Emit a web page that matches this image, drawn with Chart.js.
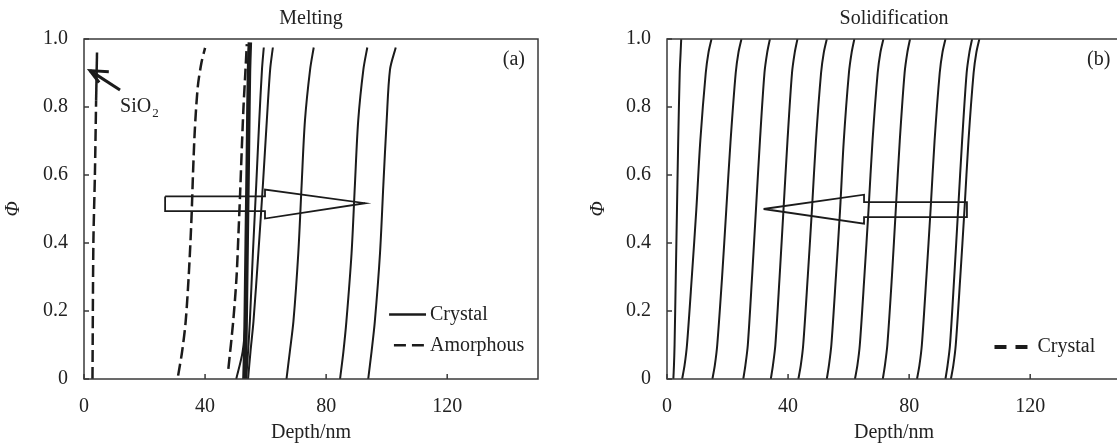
<!DOCTYPE html>
<html>
<head>
<meta charset="utf-8">
<script src="https://cdn.jsdelivr.net/npm/chart.js@4.4.0/dist/chart.umd.min.js"></script>
<style>
  html, body { margin: 0; padding: 0; background: #fff; overflow: hidden; }
  #wrap { position: relative; width: 1117px; height: 445px; overflow: hidden; }
  #melt { position: absolute; left: 0; top: 0; }
  #solid { position: absolute; left: 560px; top: 0; }
</style>
</head>
<body>
<div id="wrap">
  <canvas id="melt" width="560" height="445" style="width:560px;height:445px"></canvas>
  <canvas id="solid" width="580" height="445" style="width:580px;height:445px"></canvas>
</div>
<script>
// ---- (a) Melting : phase front depth (nm) at each Φ level ----
const meltPhi = [0, 0.08, 0.17, 0.37, 0.57, 0.76, 0.91, 0.975];
const meltCrystal = [
  [50.3, 52.4, 53.3, 53.6, 53.9, 54.1, 54.3, 54.5],
  [53.6, 54.2, 54.8, 55.8, 56.9, 57.9, 58.8, 59.4],
  [54.2, 55.0, 56.0, 57.6, 59.1, 60.4, 61.5, 62.4],
  [66.9, 68.0, 69.2, 70.8, 71.9, 73.0, 74.7, 75.9],
  [84.6, 85.7, 86.7, 88.4, 89.5, 90.6, 92.3, 93.6],
  [93.9, 95.0, 96.1, 97.8, 98.9, 100.0, 101.1, 103.0]
];
const meltThickPhi = [0, 0.1, 0.3, 0.5, 0.7, 0.9, 0.99];
const meltThick = [53.0, 53.3, 53.6, 53.9, 54.2, 54.5, 54.8];

const sio2Phi = [0, 0.4, 0.6, 0.82];
const sio2X = [2.8, 3.1, 3.6, 4.0];
const sio2TopPhi = [0.82, 0.96];
const sio2TopX = [4.0, 4.3];

const amorphPhiA = [0.01, 0.08, 0.17, 0.32, 0.47, 0.6, 0.73, 0.86, 0.93, 0.974];
const amorphA = [31.1, 32.4, 33.6, 34.7, 35.5, 36.0, 36.6, 37.6, 38.8, 40.0];
const amorphPhiB = [0.03, 0.17, 0.3, 0.42, 0.55, 0.67, 0.8, 0.9, 0.985];
const amorphB = [47.7, 49.3, 50.4, 51.0, 51.6, 52.1, 52.7, 53.3, 53.8];

const meltArrowX = [26.8, 59.8, 59.8, 92.9, 59.8, 59.8, 26.8, 26.8];
const meltArrowPhi = [0.537, 0.537, 0.557, 0.517, 0.472, 0.494, 0.494, 0.537];
const sio2ShaftX = [11.9, 2.0];
const sio2ShaftPhi = [0.85, 0.907];
const sio2HeadX = [8.2, 2.0, 5.0];
const sio2HeadPhi = [0.904, 0.907, 0.872];

// ---- (b) Solidification ----
const solidPhi = [0, 0.04, 0.1, 0.3, 0.5, 0.7, 0.9, 0.96, 1.0];
const solidCrystal = [
  [2.1, 2.3, 2.5, 2.9, 3.3, 3.7, 4.2, 4.5, 4.7],
  [5.0, 5.8, 6.6, 8.2, 9.7, 11.0, 12.8, 13.7, 14.7],
  [15.0, 15.8, 16.6, 18.2, 19.6, 21.0, 22.7, 23.6, 24.6],
  [25.2, 25.9, 26.7, 28.1, 29.4, 30.7, 32.2, 33.1, 34.0],
  [34.3, 35.0, 35.8, 37.2, 38.5, 39.8, 41.3, 42.2, 43.1],
  [43.4, 44.2, 45.0, 46.5, 47.9, 49.2, 50.9, 51.8, 52.8],
  [52.8, 53.5, 54.3, 55.8, 57.2, 58.4, 60.1, 61.0, 61.9],
  [62.1, 62.9, 63.7, 65.2, 66.6, 67.9, 69.6, 70.5, 71.5],
  [71.3, 72.0, 72.8, 74.3, 75.6, 76.9, 78.5, 79.4, 80.3],
  [82.6, 83.4, 84.2, 85.7, 87.1, 88.4, 90.1, 91.0, 92.0],
  [92.0, 92.7, 93.5, 94.9, 96.2, 97.5, 99.0, 99.9, 100.8],
  [93.8, 94.6, 95.4, 96.9, 98.3, 99.6, 101.3, 102.2, 103.2]
];
const solidArrowX = [31.9, 65.1, 65.1, 99.1, 99.1, 65.1, 65.1, 31.9];
const solidArrowPhi = [0.5, 0.542, 0.520, 0.520, 0.476, 0.476, 0.457, 0.5];

const xTicks = [0, 40, 80, 120];

const serif = "'Liberation Serif', 'Times New Roman', serif";
const ink = '#1b1b1b';
const textInk = '#222';

const pts = (xs, phi) => xs.map((v, i) => ({ x: v, y: phi[i] }));
const curve = (xs, phi, extra) => Object.assign({
  data: pts(xs, phi), showLine: true, pointRadius: 0, borderColor: ink,
  borderWidth: 2, tension: 0.3, fill: false
}, extra);

// frame, inward ticks, titles, legend and notes
const panelDecor = {
  id: 'panelDecor',
  afterDatasetsDraw(chart, args, o) {
    const { ctx, chartArea: a, scales: { x, y } } = chart;
    ctx.save();
    ctx.strokeStyle = '#3a3a3a';
    ctx.lineWidth = 1.5;
    ctx.strokeRect(a.left, a.top, a.right - a.left, a.bottom - a.top);
    ctx.beginPath();
    x.ticks.forEach(t => {
      const p = x.getPixelForValue(t.value);
      ctx.moveTo(p, a.bottom); ctx.lineTo(p, a.bottom - 5);
    });
    y.ticks.forEach(t => {
      const p = y.getPixelForValue(t.value);
      ctx.moveTo(a.left, p); ctx.lineTo(a.left + 5, p);
    });
    ctx.stroke();

    ctx.fillStyle = textInk;
    ctx.font = '20px ' + serif;
    ctx.textBaseline = 'middle';
    ctx.textAlign = 'center';
    ctx.fillText(o.title, (a.left + a.right) / 2, 19);

    ctx.textAlign = 'right';
    ctx.fillText(o.tag.text, x.getPixelForValue(o.tag.x), y.getPixelForValue(o.tag.y));

    ctx.textAlign = 'left';
    o.legend.forEach(l => {
      const py = y.getPixelForValue(l.y);
      ctx.beginPath();
      ctx.setLineDash(l.dash);
      ctx.lineWidth = l.width;
      ctx.strokeStyle = ink;
      ctx.moveTo(x.getPixelForValue(l.x0), py);
      ctx.lineTo(x.getPixelForValue(l.x1), py);
      ctx.stroke();
      ctx.setLineDash([]);
      ctx.fillText(l.label, x.getPixelForValue(l.tx), py);
    });

    (o.notes || []).forEach(n => {
      const px = x.getPixelForValue(n.x), py = y.getPixelForValue(n.y);
      ctx.font = '20px ' + serif;
      ctx.fillText(n.text, px, py);
      const w = ctx.measureText(n.text).width;
      ctx.font = '13px ' + serif;
      ctx.fillText(n.sub, px + w + 1, py + 7);
    });
    ctx.restore();
  }
};

function axes(yWidth, yTitlePad) {
  return {
    x: {
      type: 'linear', min: 0, max: 150,
      afterBuildTicks: s => { s.ticks = xTicks.map(v => ({ value: v })); },
      ticks: { padding: 16, color: textInk, font: { family: serif, size: 20 } },
      grid: { display: false, drawTicks: false },
      border: { display: false },
      title: { display: true, text: 'Depth/nm', color: textInk, font: { family: serif, size: 20 }, padding: { top: 0, bottom: 0 } },
      afterFit: s => { s.height = 66; }
    },
    y: {
      type: 'linear', min: 0, max: 1,
      ticks: {
        stepSize: 0.2, padding: 16, color: textInk, font: { family: serif, size: 20 },
        callback: v => (v === 0 ? '0' : v.toFixed(1))
      },
      grid: { display: false, drawTicks: false },
      border: { display: false },
      title: { display: true, text: 'Φ', color: textInk, font: { family: serif, size: 20, style: 'italic' }, padding: { top: yTitlePad, bottom: 0 } },
      afterFit: s => { s.width = yWidth; }
    }
  };
}

const common = {
  responsive: false,
  animation: false,
  devicePixelRatio: 1,
  events: [],
  plugins: { legend: { display: false }, tooltip: { enabled: false } }
};

// (a) Melting
const meltSets = [
  curve(sio2X, sio2Phi, { borderDash: [12, 5], borderWidth: 2.5 }),
  curve(sio2TopX, sio2TopPhi, { borderWidth: 2.5, tension: 0 }),
  curve(amorphA, amorphPhiA, { borderDash: [12, 5], borderWidth: 2.5 }),
  curve(amorphB, amorphPhiB, { borderDash: [12, 5], borderWidth: 2.5 }),
  curve(meltThick, meltThickPhi, { borderWidth: 4.5 })
].concat(meltCrystal.map(xs => curve(xs, meltPhi, {})))
 .concat([
  curve(meltArrowX, meltArrowPhi, { borderWidth: 1.8, tension: 0 }),
  curve(sio2ShaftX, sio2ShaftPhi, { borderWidth: 3, tension: 0 }),
  curve(sio2HeadX, sio2HeadPhi, { borderWidth: 3, tension: 0 })
]);

new Chart(document.getElementById('melt'), {
  type: 'scatter',
  data: { datasets: meltSets },
  options: Object.assign({}, common, {
    layout: { padding: { top: 39, right: 22, left: 0, bottom: 0 } },
    scales: axes(84, 2),
    plugins: Object.assign({}, common.plugins, {
      panelDecor: {
        title: 'Melting',
        tag: { text: '(a)', x: 145.7, y: 0.94 },
        legend: [
          { label: 'Crystal', dash: [], width: 2.5, x0: 100.8, x1: 113.0, tx: 114.3, y: 0.19 },
          { label: 'Amorphous', dash: [12, 6], width: 2.5, x0: 102.4, x1: 112.3, tx: 114.3, y: 0.099 }
        ],
        notes: [{ text: 'SiO', sub: '2', x: 11.9, y: 0.80 }]
      }
    })
  }),
  plugins: [panelDecor]
});

// (b) Solidification
const solidSets = solidCrystal.map(xs => curve(xs, solidPhi, {}))
  .concat([curve(solidArrowX, solidArrowPhi, { borderWidth: 1.8, tension: 0 })]);

new Chart(document.getElementById('solid'), {
  type: 'scatter',
  data: { datasets: solidSets },
  options: Object.assign({}, common, {
    layout: { padding: { top: 39, right: 19, left: 0, bottom: 0 } },
    scales: axes(107, 27),
    plugins: Object.assign({}, common.plugins, {
      panelDecor: {
        title: 'Solidification',
        tag: { text: '(b)', x: 146.5, y: 0.94 },
        legend: [
          { label: 'Crystal', dash: [12, 9], width: 4, x0: 108.2, x1: 119.1, tx: 122.4, y: 0.094 }
        ]
      }
    })
  }),
  plugins: [panelDecor]
});
</script>
</body>
</html>
